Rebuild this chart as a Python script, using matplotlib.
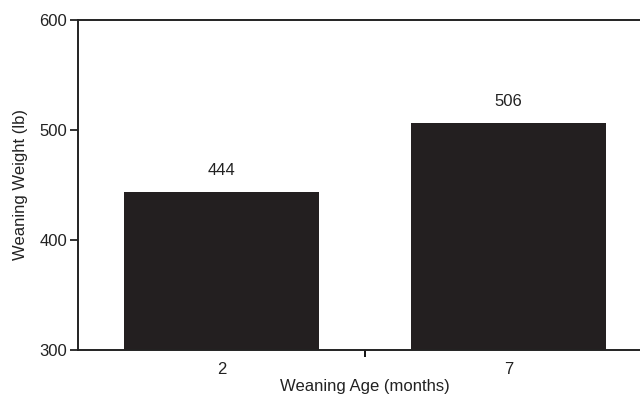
import matplotlib.pyplot as plt
import numpy as np

plt.rcParams['font.family'] = ['Liberation Sans', 'DejaVu Sans']

ages = ['2', '7']
weights = [444, 506]

fig = plt.figure(figsize=(6.4, 3.94), dpi=100)
# axes runs slightly past the right edge of the picture, as in the scan
ax = fig.add_axes([78/640, 44/394, 574/640, 330/394])

x = np.arange(len(ages))
ax.bar(x, weights, width=0.676, color='#231f20', bottom=0)

for xi, w in zip(x, weights):
    ax.annotate(str(w), (xi, w), xytext=(0, 15.5), textcoords='offset points',
                ha='center', va='center', fontsize=12, color='#222222')

ax.set_xlim(-0.5, 1.5)
ax.set_ylim(300, 600)
ax.set_yticks([300, 400, 500, 600])
ax.set_xticks(x)
ax.set_xticklabels(ages)
ax.set_xticks([0.5], minor=True)
ax.tick_params(axis='x', which='major', length=0, pad=9, labelsize=12, colors='#222222')
ax.tick_params(axis='x', which='minor', length=5, width=1.3, direction='out')
ax.tick_params(axis='y', length=6, width=1.3, direction='out', pad=2, labelsize=12, colors='#222222')

for s in ax.spines.values():
    s.set_linewidth(1.4)
    s.set_color('#222222')

ax.set_ylabel('Weaning Weight (lb)', fontsize=12, color='#222222', labelpad=8)
ax.set_xlabel('Weaning Age (months)', fontsize=12, color='#222222', labelpad=1)

fig.savefig('out.png', dpi=100)
